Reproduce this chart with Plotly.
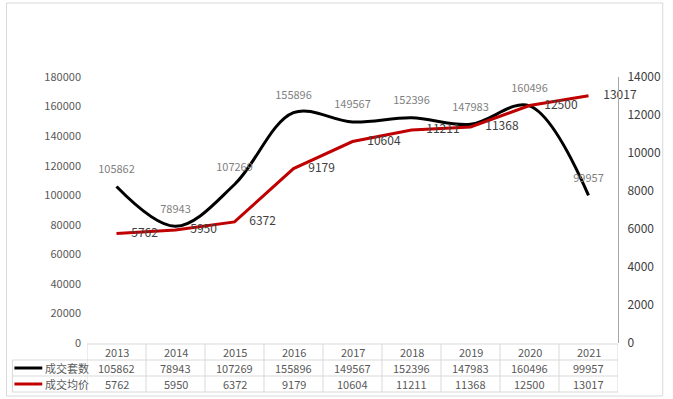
import plotly.graph_objects as go

years = ["2013", "2014", "2015", "2016", "2017", "2018", "2019", "2020", "2021"]
deals = [105862, 78943, 107269, 155896, 149567, 152396, 147983, 160496, 99957]
avg_price = [5762, 5950, 6372, 9179, 10604, 11211, 11368, 12500, 13017]
series_names = ["成交套数", "成交均价"]
left_ticks = [0, 20000, 40000, 60000, 80000, 100000, 120000, 140000, 160000, 180000]
right_ticks = [0, 2000, 4000, 6000, 8000, 10000, 12000, 14000]

W, H = 673, 399
L, R, T, B = 87, 621, 77, 343  # plot area in pixels

def pxx(px):
    return (px - L) / (R - L)

def pxy(py):
    return (B - py) / (B - T)

FONT = "Noto Sans CJK SC, Noto Sans, sans-serif"
GRID = "#d9d9d9"
TXT = "#595959"
BLACK = "#000000"
RED = "#c00000"
CLEAR = "rgba(0,0,0,0)"

fig = go.Figure()
fig.add_trace(go.Scatter(
    x=years, y=deals, name=series_names[0], mode="lines+markers+text",
    line=dict(color=BLACK, width=3, shape="spline", smoothing=1.0),
    marker=dict(size=16, color=CLEAR),
    text=[str(v) for v in deals], textposition="top center",
    textfont=dict(size=11, color="#7f7f7f", family=FONT),
    cliponaxis=False, yaxis="y", hoverinfo="skip",
))
fig.add_trace(go.Scatter(
    x=years, y=avg_price, name=series_names[1], mode="lines+markers+text",
    line=dict(color=RED, width=3),
    marker=dict(size=22, color=CLEAR),
    text=[str(v) for v in avg_price], textposition="middle right",
    textfont=dict(size=12, color="#404040", family=FONT),
    cliponaxis=False, yaxis="y2", hoverinfo="skip",
))

shapes = []
annotations = []

# outer border
shapes.append(dict(type="rect", xref="paper", yref="paper",
                   x0=pxx(6), x1=pxx(666), y0=pxy(396), y1=pxy(3),
                   line=dict(color=GRID, width=1), fillcolor=CLEAR))

row_lines = [344, 360, 376, 392]
row_centers = [352, 368, 384]

# horizontal table lines
shapes.append(dict(type="line", xref="paper", yref="paper",
                   x0=0, x1=1, y0=pxy(row_lines[0]), y1=pxy(row_lines[0]),
                   line=dict(color=GRID, width=1)))
for py in row_lines[1:]:
    shapes.append(dict(type="line", xref="paper", yref="paper",
                       x0=pxx(12), x1=1, y0=pxy(py), y1=pxy(py),
                       line=dict(color=GRID, width=1)))
# vertical table lines
for i in range(len(years) + 1):
    shapes.append(dict(type="line", xref="x", yref="paper",
                       x0=i - 0.5, x1=i - 0.5, y0=pxy(row_lines[0]), y1=pxy(row_lines[-1]),
                       line=dict(color=GRID, width=1)))
shapes.append(dict(type="line", xref="paper", yref="paper",
                   x0=pxx(12), x1=pxx(12), y0=pxy(row_lines[1]), y1=pxy(row_lines[-1]),
                   line=dict(color=GRID, width=1)))

# table texts
for i, yr in enumerate(years):
    for txt, rc in zip([yr, str(deals[i]), str(avg_price[i])], row_centers):
        annotations.append(dict(xref="x", yref="paper", x=i, y=pxy(rc),
                                xanchor="center", yanchor="middle",
                                text=txt, showarrow=False,
                                font=dict(size=11, color=TXT, family=FONT)))

# legend keys in table
for name, col, rc in zip(series_names, [BLACK, RED], row_centers[1:]):
    shapes.append(dict(type="line", xref="paper", yref="paper",
                       x0=pxx(14), x1=pxx(42), y0=pxy(rc), y1=pxy(rc),
                       line=dict(color=col, width=3)))
    annotations.append(dict(xref="paper", yref="paper", x=pxx(43), y=pxy(rc),
                            xanchor="left", yanchor="middle", text=name, showarrow=False,
                            font=dict(size=11, color=TXT, family=FONT)))

fig.update_layout(
    width=W, height=H,
    margin=dict(l=L, r=W - R, t=T, b=H - B, pad=0),
    paper_bgcolor="white", plot_bgcolor="white",
    showlegend=False, hovermode=False,
    font=dict(family=FONT),
    xaxis=dict(type="category", range=[-0.5, len(years) - 0.5],
               showticklabels=False, showgrid=False, zeroline=False,
               showline=False, ticks=""),
    yaxis=dict(range=[0, 180000], tickvals=left_ticks,
               ticktext=[str(v) for v in left_ticks],
               showgrid=False, zeroline=False, showline=False, ticks="",
               tickfont=dict(size=11, color=TXT, family=FONT),
               ticklabelstandoff=5),
    yaxis2=dict(range=[0, 14000], tickvals=right_ticks,
                ticktext=[str(v) for v in right_ticks],
                overlaying="y", side="right",
                showgrid=False, zeroline=False, showline=True,
                linecolor="#a6a6a6", linewidth=1, ticks="",
                tickfont=dict(size=12, color="#404040", family=FONT),
                ticklabelstandoff=6),
    shapes=shapes, annotations=annotations,
)

fig.write_html("out.html", config={"displayModeBar": False},
               post_script="document.body.style.margin='0';")
